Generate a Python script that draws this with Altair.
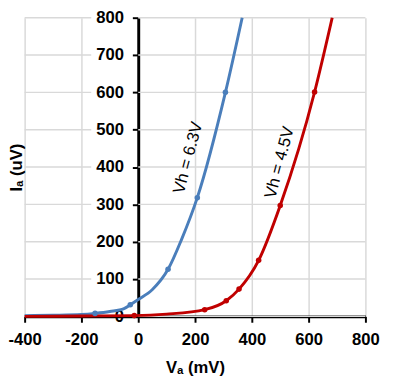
import altair as alt
import pandas as pd

# Curve traces (mV, uV)
blue_line_x = [-400, -300, -200, -152, -100, -50, -28, 0, 50, 105, 152, 208, 307, 366]
blue_line_y = [2, 3, 5, 8, 13, 21, 31, 45, 72, 126, 205, 318, 600, 800]
red_line_x = [-400, -200, -14, 100, 234, 310, 355, 424, 500, 621, 683]
red_line_y = [0, 1, 2, 6, 18, 42, 73, 150, 297, 601, 800]

# Measured markers
blue_pts_x = [-152, -28, 105, 208, 307]
blue_pts_y = [8, 31, 126, 318, 600]
red_pts_x = [-14, 234, 310, 355, 424, 500, 621]
red_pts_y = [2, 18, 42, 73, 150, 297, 601]

labels = ["Vh = 6.3V", "Vh = 4.5V"]
label_x = [176, 498]
label_y = [425, 412]
series = ["6.3", "4.5"]
colors = ["#4a7ebb", "#c00000"]

x_ticks = [-400, -200, 0, 200, 400, 600, 800]
y_ticks = [0, 100, 200, 300, 400, 500, 600, 700, 800]

lines = pd.concat([
    pd.DataFrame({"x": blue_line_x, "y": blue_line_y, "s": series[0]}),
    pd.DataFrame({"x": red_line_x, "y": red_line_y, "s": series[1]}),
], ignore_index=True)
pts = pd.concat([
    pd.DataFrame({"x": blue_pts_x, "y": blue_pts_y, "s": series[0]}),
    pd.DataFrame({"x": red_pts_x, "y": red_pts_y, "s": series[1]}),
], ignore_index=True)
lab = pd.DataFrame({"x": label_x, "y": label_y, "t": labels})
grid = pd.DataFrame({"gy": y_ticks})

xs = alt.Scale(domain=[-400, 800], nice=False, zero=False)
ys = alt.Scale(domain=[0, 800], nice=False)
cs = alt.Scale(domain=series, range=colors)

xaxis = alt.Axis(values=x_ticks, title="Vₐ (mV)", labelExpr="'' + datum.value",
                 labelOverlap=False, labelFlush=False,
                 labelPadding=10, titlePadding=12)
yaxis = alt.Axis(values=y_ticks, title="Iₐ (uV)", offset=-116, grid=False,
                 labelOverlap=False, labelFlush=False, tickCount=9,
                 labelPadding=9, titleX=-124, titleY=152.5, titleAngle=270,
                 titleBaseline="middle", titleAlign="center")

# horizontal gridlines, interrupted behind the y tick labels
grid_left = alt.Chart(grid).mark_rule(color="#d9d9d9", strokeWidth=1.5).encode(
    x=alt.value(0), x2=alt.value(68),
    y=alt.Y("gy:Q", scale=ys, axis=yaxis),
)
grid_right = alt.Chart(grid).mark_rule(color="#d9d9d9", strokeWidth=1.5).encode(
    x=alt.value(116), x2=alt.value(348),
    y=alt.Y("gy:Q", scale=ys, axis=yaxis),
)
line = alt.Chart(lines).mark_line(interpolate="monotone", strokeWidth=3).encode(
    x=alt.X("x:Q", scale=xs, axis=xaxis),
    y=alt.Y("y:Q", scale=ys, axis=yaxis),
    color=alt.Color("s:N", scale=cs, legend=None),
    detail="s:N",
)
points = alt.Chart(pts).mark_circle(size=32, opacity=1).encode(
    x="x:Q", y="y:Q", color=alt.Color("s:N", scale=cs, legend=None)
)
text = alt.Chart(lab).mark_text(angle=285, fontSize=17, font="Liberation Sans",
                                fontStyle="normal", color="black").encode(
    x="x:Q", y="y:Q", text="t:N")

chart = (grid_left + grid_right + line + points + text).properties(
    width=348, height=305,
    autosize=alt.AutoSizeParams(type="none"),
    padding={"left": 17, "top": 6, "right": 20, "bottom": 58},
).configure_axis(
    domainColor="black", domainWidth=3, tickColor="black", tickWidth=2, tickSize=6,
    gridColor="#d9d9d9", gridWidth=1.5, labelFont="Liberation Sans", labelFontSize=17,
    labelFontWeight="bold", labelColor="black", titleFont="Liberation Sans",
    titleFontSize=17, titleFontWeight="bold", titleColor="black",
    labelOverlap=False,
).configure_view(stroke=None)

chart.save("out.html", embed_options={"renderer": "svg", "actions": False})
